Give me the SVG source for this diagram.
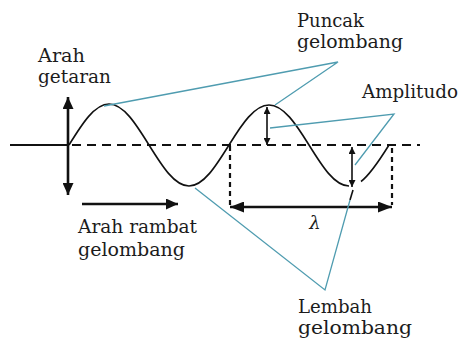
<svg xmlns="http://www.w3.org/2000/svg" width="461" height="343" viewBox="0 0 461 343">
<style>
.lbl{font-family:"DejaVu Serif","Liberation Serif",serif;font-size:18px;fill:#1c1c1c}
.wave{fill:none;stroke:#111;stroke-width:1.6}
.axis{stroke:#111;stroke-width:2;fill:none}
.dash{stroke:#111;stroke-width:2;stroke-dasharray:9 6;fill:none}
.vdash{stroke:#111;stroke-width:2.2;stroke-dasharray:5 4;fill:none}
.ptr{stroke:#4f9cb0;stroke-width:1.3;fill:none}
.big{stroke:#111;stroke-width:2.6;fill:none}
.small{stroke:#111;stroke-width:1.6;fill:none}
</style>
<defs>
<marker id="ah" markerUnits="userSpaceOnUse" viewBox="0 0 12 11" markerWidth="12" markerHeight="11" refX="12" refY="5.5" orient="auto-start-reverse"><path d="M0,0 L12,5.5 L0,11 z" fill="#111"/></marker>
<marker id="ahl" markerUnits="userSpaceOnUse" viewBox="0 0 14 11" markerWidth="14" markerHeight="11" refX="14" refY="5.5" orient="auto-start-reverse"><path d="M0,0 L14,5.5 L0,11 z" fill="#111"/></marker>
<marker id="ahs" markerUnits="userSpaceOnUse" viewBox="0 0 7 7" markerWidth="7" markerHeight="7" refX="7" refY="3.5" orient="auto-start-reverse"><path d="M0,0 L7,3.5 L0,7 z" fill="#111"/></marker>
</defs>
<g id="axis">
<line class="axis" x1="10" y1="145" x2="68" y2="145"/>
<line class="dash" x1="72" y1="145" x2="420" y2="145"/>
</g>
<g id="wave">
<path class="wave" d="M69,145 C82.04,124 94.52,104 109,104 C123.48,104 135.96,124 149,145 C162.04,166 174.52,186 189,186 C203.48,186 215.96,166 229,145 C242.04,124 254.52,105 269,105 C283.48,105 295.96,124 309,145 C322.04,166 334.52,186 349,186"/>
<path class="wave" d="M361,181.5 C370.33,174.5 379.67,160 389,145"/>
</g>
<g id="connectors">
<line class="vdash" x1="230" y1="146" x2="230" y2="207"/>
<line class="vdash" x1="392" y1="148" x2="392" y2="205"/>
<line class="big" x1="68" y1="97" x2="68" y2="195" marker-start="url(#ah)" marker-end="url(#ah)"/>
<line class="big" x1="82" y1="204" x2="178" y2="204" marker-end="url(#ah)"/>
<line class="big" x1="230" y1="207" x2="392" y2="207" marker-start="url(#ahl)" marker-end="url(#ahl)"/>
<line class="small" x1="267" y1="107" x2="267" y2="145" marker-start="url(#ahs)" marker-end="url(#ahs)"/>
<line class="small" x1="352" y1="147" x2="352" y2="187" marker-start="url(#ahs)" marker-end="url(#ahs)"/>
<line class="small" x1="353" y1="190" x2="350" y2="200"/>
<polyline class="ptr" points="104,106 338,62 275,105"/>
<polyline class="ptr" points="270,128 394,114 355,165"/>
<polyline class="ptr" points="195,188 325,290 350,200"/>
</g>
<g id="label-arah-getaran">
<text class="lbl" x="38" y="62" textLength="47" lengthAdjust="spacingAndGlyphs">Arah</text>
<text class="lbl" x="38" y="83" textLength="73" lengthAdjust="spacingAndGlyphs">getaran</text>
</g>
<g id="label-puncak">
<text class="lbl" x="297" y="27" textLength="67" lengthAdjust="spacingAndGlyphs">Puncak</text>
<text class="lbl" x="297" y="48" textLength="106" lengthAdjust="spacingAndGlyphs">gelombang</text>
</g>
<g id="label-amplitudo">
<text class="lbl" x="362" y="98" textLength="96" lengthAdjust="spacingAndGlyphs">Amplitudo</text>
</g>
<g id="label-arah-rambat">
<text class="lbl" x="78" y="233" textLength="119" lengthAdjust="spacingAndGlyphs">Arah rambat</text>
<text class="lbl" x="78" y="256" textLength="107" lengthAdjust="spacingAndGlyphs">gelombang</text>
</g>
<g id="label-lembah">
<text class="lbl" x="298" y="313" textLength="74" lengthAdjust="spacingAndGlyphs">Lembah</text>
<text class="lbl" x="298" y="334" textLength="114" lengthAdjust="spacingAndGlyphs">gelombang</text>
</g>
<g id="label-lambda">
<text class="lbl" x="315" y="229" text-anchor="middle" font-style="italic" font-size="17">λ</text>
</g>
</svg>
